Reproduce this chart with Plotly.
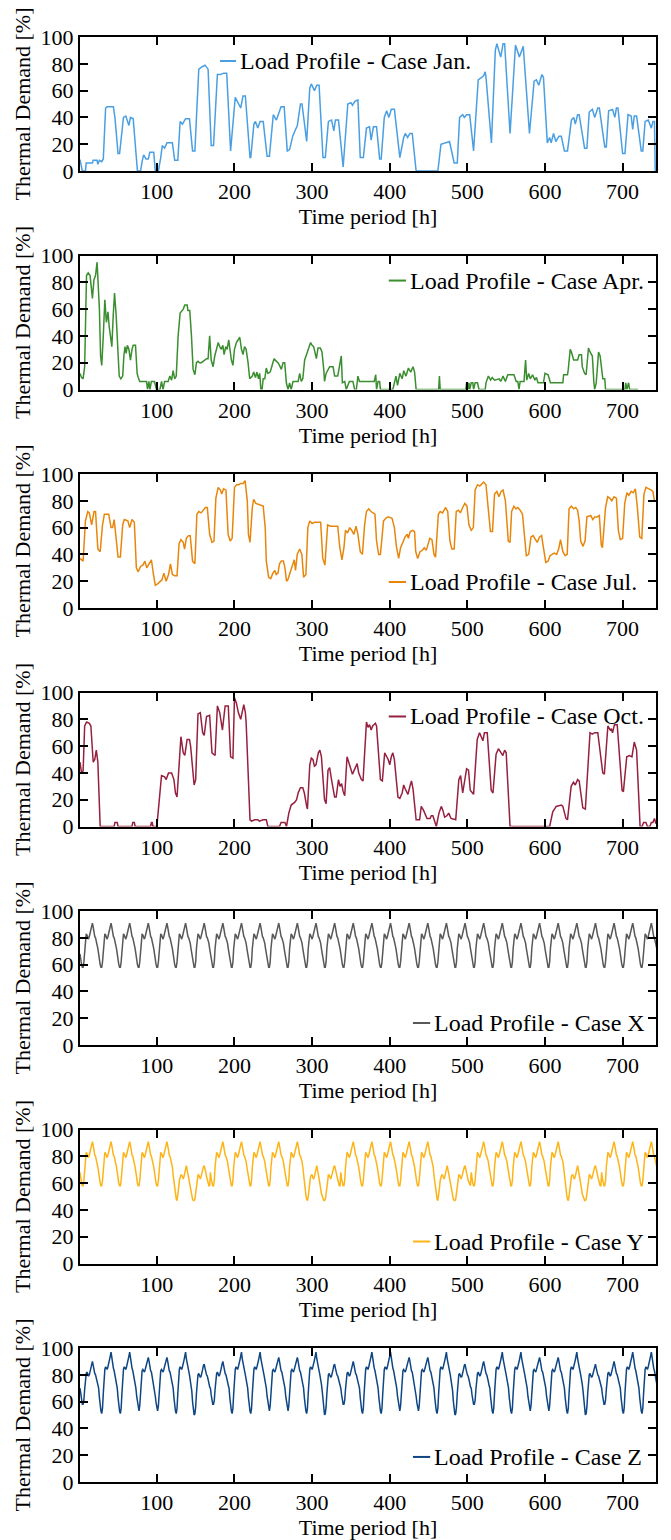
import plotly.graph_objects as go
from plotly.subplots import make_subplots

# ---- data: (hour, thermal demand %) ----
jan = [(1, 8.5), (4, 0), (8, 0), (9, 6), (17, 6), (18, 8), (23, 8), (24, 5), (26, 8), (29, 7), (31, 9), (34, 47),
       (36, 48), (44, 48), (46, 40), (50, 13), (52, 13), (57, 40), (60, 41), (64, 34), (66, 40), (69.5, 39), (75, 0),
       (79, 0), (81, 7), (83, 12), (86, 9), (89, 9), (91, 14), (96, 14), (98, 0), (102, 0), (105, 10), (107, 19),
       (110, 17), (113, 21), (120, 21), (123, 8), (127, 8), (130, 37), (133, 35), (137, 39), (142, 39), (146, 15),
       (149, 15), (154, 76), (159, 78), (162, 79), (166, 76), (170, 19), (173, 19), (178, 72), (182, 72), (186, 73),
       (190, 73), (195, 15), (201, 55), (203, 53), (208, 47), (211, 56), (214, 56), (220, 10), (221, 10), (225, 35),
       (227, 37), (230, 32), (233, 37), (237, 37), (242, 11), (245, 11), (250, 42), (254, 38), (258, 44), (260, 48),
       (264, 48), (268, 15), (271, 16), (275, 26), (278, 30), (281, 34), (283, 42), (285, 50), (287, 50), (293, 22),
       (297, 62), (299, 65), (303, 60), (306, 64), (309, 64), (314, 10), (317, 10), (321, 37), (325, 38), (328, 30),
       (330, 38), (334, 38), (340, 3), (346, 50), (350, 51), (352, 49), (355, 52), (359, 53), (362, 10), (366, 10),
       (370, 32), (374, 33), (376, 23), (379, 33), (383, 33), (387, 9), (389, 9), (393, 40), (396, 45), (399, 40),
       (402, 46), (406, 46), (413, 10), (418, 25), (420, 28), (423, 25), (426, 28), (429, 28), (434, 0), (462, 0),
       (466, 20), (473, 21), (477, 22), (483, 6), (487, 6), (490, 40), (494, 42), (496, 40), (499, 42), (503, 42),
       (508, 15), (514, 68), (518, 70), (521, 71), (523, 74), (524, 70), (531, 21), (536, 90), (538, 95), (543, 85),
       (546, 95), (548, 95), (555, 28), (562, 94), (567, 85), (571, 93), (572, 93), (580, 28), (586, 67), (589, 68),
       (592, 64), (596, 72), (598, 70), (603, 21), (606, 25), (608, 21), (611, 28), (614, 22), (618, 26), (621, 26),
       (625, 15), (629, 15), (634, 38), (637, 40), (639, 35), (642, 42), (644, 42), (651, 17), (654, 17), (657, 44),
       (661, 46), (664, 40), (668, 47), (670, 47), (677, 18), (679, 18), (682, 45), (687, 46), (690, 40), (692, 47),
       (694, 47), (700, 13), (703, 13), (707, 42), (711, 41), (713, 31), (715, 41), (718, 41), (724, 15), (726, 15),
       (729, 37), (733, 38), (737, 32), (739, 37), (741, 37), (742, 0)]

apr = [(1, 12), (3, 9), (5, 8), (7, 17), (9.4, 85), (11.6, 87), (14, 85), (16, 74), (17, 68), (19, 82), (21, 85),
       (23, 95), (24, 85), (26, 60), (27.5, 25), (29, 18), (31, 40), (33, 67), (35, 50), (37, 58), (38.6, 47),
       (40.8, 35), (42, 32), (43.8, 55), (45.5, 72), (47.6, 55), (50, 30), (51.5, 10), (53.6, 8), (56, 10), (57.5, 25),
       (59, 32), (60.5, 27), (62, 33), (64, 30), (66, 22), (68, 30), (69.5, 33), (72.5, 33), (74.6, 12), (76, 9),
       (78, 6), (86.7, 6), (88, 0), (89.7, 6), (91, 0), (93, 6), (97, 6), (99.5, 0), (104, 0), (106, 6), (108, 0),
       (110, 6), (114.5, 6), (116.7, 10), (119, 7), (121, 14), (123, 8), (125, 10), (127.4, 40), (130, 57), (134, 60),
       (136, 63), (139, 63), (140, 59), (142.4, 59), (144.6, 40), (146.7, 15), (149, 11), (151, 20), (153, 21),
       (155, 20), (157.4, 20), (160, 21), (162, 22), (164, 23), (166, 23), (168, 40), (170, 22), (172.5, 17),
       (174.6, 25), (176.7, 30), (179, 35), (181, 32), (183, 30), (185, 33), (186.6, 26), (188.8, 32), (190.5, 30),
       (192.6, 37), (194, 29), (196, 22), (198, 18), (200, 30), (202.5, 35), (204.6, 37), (206.8, 39), (209, 30),
       (211, 26), (213, 32), (215, 30), (217.5, 20), (219.6, 8), (223, 10), (224.8, 13), (227, 9), (229, 13), (231, 8),
       (232.5, 12), (234, 0), (235.5, 0), (237, 8), (239, 8), (241, 16), (243, 12), (246, 13), (249, 20), (251, 23),
       (254, 21), (256, 20), (258, 18), (260.4, 15), (262.5, 20), (264.7, 20), (266.8, 5), (269, 0), (271, 5),
       (273, 0), (275.4, 6), (282, 6), (284, 12), (286, 6), (288, 8), (290.4, 22), (293.4, 27), (296, 32), (298, 35),
       (300, 33), (302, 32), (305.5, 23), (307.6, 31), (310.6, 31), (312.7, 28), (315, 15), (316, 6), (318, 12),
       (320.5, 15), (322.6, 17), (327, 17), (329, 10), (333, 10), (335.5, 17), (337.6, 25), (339, 5), (342, 6),
       (344, 0), (346, 3), (348, 6), (352.6, 6), (354.8, 0), (357, 0), (359, 10), (361, 6), (380, 6), (382, 11),
       (383, 0), (385, 6), (387, 6), (388, 0), (404, 0), (406, 5), (408, 10), (410, 3), (413, 12), (416, 8),
       (418, 14), (421, 10), (424, 16), (427, 13), (430, 17), (432, 13), (434, 0), (463, 0), (464, 10), (465, 0),
       (498, 0), (499, 5), (500, 5), (501, 0), (502, 5), (503, 0), (505, 5), (507, 5), (508, 0), (510, 5), (513, 5),
       (515, 0), (523, 0), (524, 5), (527, 10), (530, 7), (532, 9), (535, 7), (541, 8), (543, 6), (546, 10), (549, 6),
       (552, 11), (560, 11), (563, 6), (565, 6), (566.5, 0), (568, 6), (573, 6), (575, 22), (576.5, 7), (579, 12),
       (581, 8), (584, 11), (587, 7), (589, 9), (591, 5), (598, 5), (600, 12), (604, 11), (607, 5), (623, 5),
       (624, 11), (629, 11), (630, 15), (632.5, 30), (634, 28), (637, 22), (642, 22), (644, 26), (647, 26), (648, 17),
       (651, 12), (653, 11), (656, 31), (658, 28), (661, 25), (663, 5), (664, 0), (666, 5), (669, 28), (671, 25),
       (673, 15), (674.5, 8), (677, 8), (678, 0), (703, 0), (704, 5), (705.5, 0), (707.7, 5), (709, 0), (720, 0)]

jul = [(1, 37), (3, 36), (5, 35), (8, 65), (11, 72), (13, 71), (16, 62), (19, 72), (21, 72), (24, 44), (27, 42),
       (30, 62), (32.4, 70), (38, 70), (41, 60), (43, 60), (45, 66), (47, 55), (50, 38), (53, 38), (56, 62), (58, 66),
       (62.6, 65), (65, 60), (68, 66), (71, 64), (73.6, 30), (76, 27), (79, 31), (82, 32), (84.6, 35), (87, 30),
       (90, 33), (93, 36), (95.6, 25), (98, 17), (101, 18), (104, 20), (106.6, 21), (109, 26), (112, 20), (115, 25),
       (117.6, 33), (120, 25), (123, 24), (126, 24), (128.6, 48), (131, 51), (134, 49), (135.7, 44), (138, 52),
       (140.7, 54), (143, 54), (146, 35), (149, 33), (151.6, 70), (154, 72), (157, 71), (160, 73), (162.6, 75),
       (165, 75), (168, 55), (171, 49), (173.6, 50), (176, 82), (179, 90), (182, 88), (183.5, 85), (186, 89), (189, 88),
       (191.8, 55), (194.5, 50), (197, 52), (200, 90), (202.7, 92), (205.5, 92), (208, 93), (211, 93), (213.7, 95),
       (216.5, 80), (218, 55), (220, 49), (223, 75), (224.7, 81), (227.5, 78), (233, 77), (237, 76), (239.6, 60),
       (241, 35), (244, 23), (246.7, 22), (249.5, 26), (252, 28), (253.8, 25), (256, 26), (258, 33), (260.4, 35),
       (263, 35), (265, 30), (267, 20), (268.7, 21), (271.4, 26), (274, 30), (277, 36), (278.6, 28), (280.8, 40),
       (284, 44), (286.8, 40), (289, 23), (292, 25), (294.5, 60), (297, 65), (300, 63), (303, 64), (307, 64), (311, 64),
       (313.7, 37), (316.5, 32), (320, 62), (323.6, 61), (329, 61), (333, 61), (335.7, 45), (338.5, 36), (341, 45),
       (343, 58), (345.6, 56), (348.4, 60), (351, 58), (353.8, 55), (356.6, 61), (359, 55), (362, 42), (364.8, 40),
       (367.6, 62), (370, 72), (373, 74), (375.8, 72), (378.6, 71), (381, 70), (383, 50), (385.7, 40), (388, 40),
       (392, 65), (395, 67), (397.8, 68), (403, 67), (406, 60), (408.8, 45), (411.5, 37), (414, 45), (417, 50),
       (419.8, 53), (422.5, 55), (424, 52), (426.4, 57), (429.7, 58), (432, 57), (433.5, 42), (436, 37), (439, 42),
       (441.8, 43), (444.5, 45), (447, 43), (449, 47), (451.6, 52), (454.4, 51), (457, 40), (459, 38), (462.6, 70),
       (465, 72), (468, 71), (472, 75), (474.7, 72), (477.5, 50), (480, 44), (483, 44), (485.7, 72), (488.5, 73),
       (491, 71), (494, 75), (496.7, 78), (499.5, 76), (502, 62), (505, 58), (507.7, 60), (510, 88), (513, 92),
       (516, 91), (518.7, 93), (521, 94), (524, 92), (527, 75), (529.7, 57), (532.4, 57), (535, 85), (538, 87),
       (540.7, 83), (543.4, 87), (546, 88), (549, 80), (550.5, 65), (552.7, 50), (555, 49), (557, 72), (560, 76),
       (562.6, 74), (565, 75), (568, 73), (571, 70), (573.6, 55), (576, 39), (579, 40), (582, 53), (584.6, 54),
       (587, 52), (590, 49), (593, 53), (595.6, 54), (598, 45), (601, 34), (604, 35), (606.6, 39), (609, 40), (612, 41),
       (615, 40), (617.6, 44), (620, 51), (623, 42), (626, 39), (628.6, 40), (631, 74), (634, 76), (637, 74),
       (639.6, 75), (642, 73), (644, 65), (646, 50), (649, 46), (651.6, 50), (654, 68), (659, 69), (661.6, 66),
       (664, 68), (667, 68), (670, 69), (672.5, 47), (674, 45), (678, 75), (680.8, 83), (683.5, 82), (686, 80),
       (689, 83), (692, 82), (694.5, 58), (697, 51), (700, 52), (702.7, 78), (705.5, 86), (708, 84), (711, 87),
       (713.7, 86), (716.4, 89), (719, 75), (722, 53), (724.7, 52), (727.5, 85), (730, 90), (734, 89), (737, 88),
       (739, 87), (741, 80)]

oct = [(1, 48), (3, 40), (5, 41.5), (7, 75), (9.5, 78), (13, 77), (15, 75), (18, 48), (20, 50), (22, 57), (24, 48),
       (27, 0), (45, 0), (46, 3), (49, 3), (50, 0), (68, 0), (69, 3), (71, 3), (72, 0), (92, 0), (93, 3), (94, 3),
       (95, 0), (100, 0), (106, 38), (110, 37), (112, 35), (115, 40), (119, 40), (122, 35), (124, 25), (126, 22),
       (130, 65), (131, 67), (134, 55), (136, 53), (139, 65), (142, 65), (143.5, 60), (148, 31), (150, 35), (153, 84),
       (156, 85), (159, 70), (161, 68), (164, 82), (168, 83), (171, 55), (175, 53), (178, 90), (181, 85), (183, 78),
       (184.5, 72), (186, 80), (188, 90), (192, 90), (195, 52), (198, 51), (200, 96), (202.5, 92), (205, 85), (208, 80),
       (210, 86), (212, 91), (214, 85), (215, 78), (220, 5), (222, 4), (226, 5), (230, 5), (232, 4), (237, 5),
       (241, 5), (243, 0), (258, 0), (260, 3), (265, 3), (267, 0), (270, 10), (273, 16), (277.5, 18), (280, 20),
       (282, 25), (285, 29), (288, 29), (290, 25), (293, 15), (294, 13), (297, 46), (299, 51), (301, 50), (303, 45),
       (305, 46), (308, 55), (310, 57), (312, 52), (316, 20), (318, 17), (320.5, 42), (322.6, 44), (325, 35), (327, 28),
       (329, 22), (331, 22), (334, 35), (336, 30), (338, 32), (340, 26), (342, 23), (345, 52), (347, 48), (349, 43),
       (352, 39), (355, 43), (358, 47), (360, 40), (363.5, 35), (365.6, 34), (370, 78), (372, 74), (374, 76), (376, 72),
       (378, 75), (381.5, 77), (383, 75), (388, 35), (390.5, 34), (393.5, 55), (396, 52), (398, 50), (400, 46),
       (402, 52), (404, 55), (406, 50), (410.6, 22), (413, 21), (416, 25), (418, 31), (420, 28), (423.5, 24), (426, 30),
       (428, 34), (430, 28), (434, 5), (438.5, 5), (440.6, 15), (443.6, 12), (446, 8), (448, 6), (452, 6), (453.5, 8),
       (455.6, 8), (458, 3), (460, 0), (463.4, 10), (466.4, 15), (468.5, 12), (470.7, 7), (473.6, 8), (476, 10),
       (479, 6), (485, 5), (489, 35), (491.3, 38), (494, 25), (497, 35), (499, 43), (501.5, 42), (503.7, 27), (508, 24),
       (512.7, 65), (515.7, 70), (517, 68), (520, 64), (522, 70), (525.6, 70), (530.7, 27), (533, 25), (537, 54),
       (540, 58), (543.5, 55), (545.7, 53), (548, 57), (550, 55), (555, 0), (606, 0), (610, 11), (614.4, 15), (621, 16),
       (623, 15), (627, 6), (629, 5), (633.7, 30), (636.7, 33), (639, 31), (642, 35), (644, 34), (648.7, 14), (652, 13),
       (658, 70), (661, 69), (664, 70), (668, 70), (674.4, 40), (676.5, 39), (681, 75), (684, 72), (685.5, 73),
       (687, 70), (689.5, 76), (693, 76), (699.3, 27), (701, 26), (705.3, 52), (708.8, 53), (712, 52), (715, 63),
       (718, 57), (722.5, 0), (725, 0), (727, 3), (730, 3), (732, 0), (735, 0), (737, 3), (739, 3), (741, 6), (743, 2)]

# synthetic cases: hourly profile per day type (hour of day 0..23) and the sequence of day types
hours_of_day = list(range(24))
x_weekday = [68, 63, 60, 58, 58, 62, 72, 80, 83, 82, 80, 79, 81, 84, 87, 90, 91, 88, 84, 81, 80, 78, 76, 72]
y_sat = [66, 61, 56, 51, 48, 47, 50, 56, 62, 65, 66, 66, 64, 63, 65, 68, 71, 73, 70, 67, 64, 60, 56, 52]
y_sun = [50, 48, 47, 47, 48, 52, 58, 63, 66, 66, 64, 63, 65, 68, 71, 72, 73, 71, 68, 65, 62, 60, 58, 58]
z_a = [70, 63, 57, 53, 51, 55, 66, 78, 84, 86, 85, 84, 86, 88, 91, 94, 97, 92, 88, 85, 83, 80, 77, 73]
z_b = [70, 64, 59, 55, 53, 57, 67, 78, 83, 84, 83, 82, 84, 86, 88, 91, 93, 90, 86, 83, 82, 79, 76, 73]
z_c = [70, 65, 61, 58, 58, 61, 69, 77, 81, 82, 81, 79, 80, 82, 85, 88, 90, 87, 83, 81, 80, 78, 75, 72]
z_d = [68, 60, 53, 50, 51, 56, 66, 75, 80, 81, 80, 78, 79, 81, 84, 87, 88, 85, 82, 80, 79, 77, 74, 71]

x_days = ["wd"] * 31
y_days = ["wd", "wd", "wd", "wd", "wd", "sat", "sun"] * 4 + ["wd", "wd", "wd"]
z_days = ["c", "a", "a", "b", "b", "a", "d"] * 4 + ["c", "a", "a"]

cases = ["Jan.", "Apr.", "Jul.", "Oct.", "X", "Y", "Z"]
colors = ["#4A9FE3", "#3A8E2F", "#E8860C", "#96203F", "#58585A", "#FDB417", "#0E4683"]


def build_days(day_seq, profiles):
    pts = []
    for d, name in enumerate(day_seq):
        for hr in hours_of_day:
            pts.append((d * 24 + hr + 1, profiles[name][hr]))
    return pts


case_x = build_days(x_days, {"wd": x_weekday})
case_y = build_days(y_days, {"wd": x_weekday, "sat": y_sat, "sun": y_sun})
case_z = build_days(z_days, {"a": z_a, "b": z_b, "c": z_c, "d": z_d})

series = [jan, apr, jul, oct, case_x, case_y, case_z]

# legend placement inside each panel (axis-domain fractions): line x0, line x1, text x, y
legend_pos = [
    (0.243, 0.271, 0.274, 0.821),
    (0.536, 0.566, 0.569, 0.813),
    (0.536, 0.566, 0.569, 0.194),
    (0.536, 0.566, 0.569, 0.821),
    (0.578, 0.608, 0.611, 0.164),
    (0.578, 0.608, 0.611, 0.164),
    (0.578, 0.608, 0.611, 0.187),
]

FONT = "Liberation Serif"
txt = dict(family=FONT, size=22, color="black")
leg_txt = dict(family=FONT, size=24, color="black")

fig = make_subplots(rows=7, cols=1, vertical_spacing=84.5 / 1445)

for i, (pts, case, col) in enumerate(zip(series, cases, colors)):
    r = i + 1
    hx = [p[0] for p in pts]
    hy = [p[1] for p in pts]
    fig.add_trace(go.Scatter(x=hx, y=hy, mode="lines", line=dict(color=col, width=1.5),
                             name="Load Profile - Case " + case, showlegend=False), row=r, col=1)
    ax = "" if r == 1 else str(r)
    lx0, lx1, tx, ly = legend_pos[i]
    fig.add_shape(type="line", xref="x%s domain" % ax, yref="y%s domain" % ax,
                  x0=lx0, x1=lx1, y0=ly, y1=ly, line=dict(color=col, width=2))
    fig.add_annotation(xref="x%s domain" % ax, yref="y%s domain" % ax, x=tx, y=ly,
                       text="Load Profile - Case " + case, showarrow=False,
                       xanchor="left", yanchor="middle", font=leg_txt)
    fig.update_xaxes(range=[1, 743], tickvals=[100, 200, 300, 400, 500, 600, 700],
                     ticks="inside", ticklen=8, tickwidth=1.5, tickcolor="black",
                     showline=True, linewidth=2, linecolor="black", mirror="ticks",
                     showgrid=False, zeroline=False, automargin=False,
                     title=dict(text="Time period [h]", font=txt, standoff=4),
                     tickfont=txt, row=r, col=1)
    fig.update_yaxes(range=[0, 100], tickvals=[0, 20, 40, 60, 80, 100],
                     ticks="inside", ticklen=8, tickwidth=1.5, tickcolor="black",
                     showline=True, linewidth=2, linecolor="black", mirror="ticks",
                     showgrid=False, zeroline=False, automargin=False,
                     title=dict(text="Thermal Demand [%]", font=txt, standoff=4),
                     tickfont=txt, row=r, col=1)

# the page body adds an 8px offset, so the figure is 8px smaller on the top/left side
fig.update_layout(width=663, height=1532, margin=dict(l=72, r=15, t=29, b=58),
                  plot_bgcolor="white", paper_bgcolor="white", showlegend=False)

fig.write_html("out.html")
